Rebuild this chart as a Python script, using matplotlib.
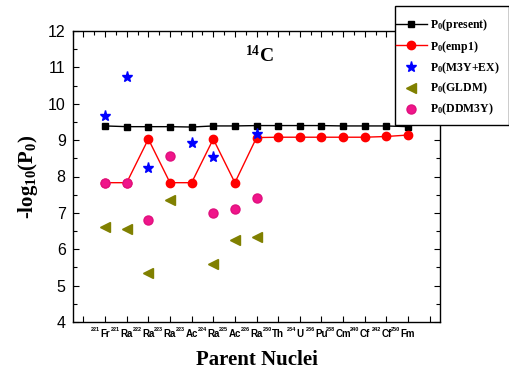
import matplotlib
matplotlib.use("Agg")
import matplotlib.pyplot as plt
from matplotlib.ticker import MultipleLocator, FixedLocator
from matplotlib.patches import Rectangle

plt.rcParams['mathtext.default'] = 'regular'

mass = ['221', '221', '222', '223', '223', '224', '225', '226', '230', '234',
        '236', '238', '240', '242', '250']
nuclei = ['Fr', 'Ra', 'Ra', 'Ra', 'Ac', 'Ra', 'Ac', 'Ra', 'Th', 'U',
          'Pu', 'Cm', 'Cf', 'Cf', 'Fm']
x = list(range(1, 16))

present = [9.39, 9.37, 9.37, 9.37, 9.36, 9.39, 9.39, 9.40, 9.40, 9.40,
           9.40, 9.39, 9.39, 9.39, 9.37]
emp1 = [7.83, 7.83, 9.03, 7.83, 7.83, 9.03, 7.83, 9.07, 9.08, 9.08,
        9.08, 9.08, 9.08, 9.10, 9.14]

m3y_x = [1, 2, 3, 5, 6, 8]
m3y = [9.66, 10.73, 8.22, 8.91, 8.53, 9.17]

gldm_x = [1, 2, 3, 4, 6, 7, 8]
gldm = [6.61, 6.56, 5.36, 7.36, 5.60, 6.26, 6.34]

ddm_x = [1, 2, 3, 4, 6, 7, 8]
ddm = [7.83, 7.83, 6.81, 8.57, 7.00, 7.10, 7.41]

W, H = 510, 376
fig = plt.figure(figsize=(W / 100, H / 100), dpi=100)
ax = fig.add_axes([72.6 / W, 1 - 322 / H, (440.5 - 72.6) / W, (322 - 31) / H])

ax.plot(x, present, color='black', lw=1.0, marker='s', ms=5, mfc='black',
        mec='black', label=r'P$_{0}$(present)', zorder=3)
ax.plot(x, emp1, color='red', lw=1.0, marker='o', ms=6, mfc='red',
        mec='red', label=r'P$_{0}$(emp1)', zorder=3)
ax.plot(m3y_x, m3y, ls='none', marker='*', ms=8, color='blue',
        label=r'P$_{0}$(M3Y+EX)', zorder=4)
ax.plot(gldm_x, gldm, ls='none', marker='<', ms=7, color='#808000',
        label=r'P$_{0}$(GLDM)', zorder=4)
ax.plot(ddm_x, ddm, ls='none', marker='o', ms=6.5, color='#f0158a',
        mec='#e0107e', label=r'P$_{0}$(DDM3Y)', zorder=4)

ax.set_xlim(-0.5, 16.5)
ax.set_ylim(4, 12)

ax.xaxis.set_major_locator(FixedLocator(list(range(0, 17))))
ax.xaxis.set_minor_locator(MultipleLocator(0.5))
ax.yaxis.set_major_locator(MultipleLocator(1))
ax.yaxis.set_minor_locator(MultipleLocator(0.5))

labels = [''] + nuclei + ['']
ax.set_xticklabels(labels, fontfamily='Liberation Sans', fontweight='bold',
                   fontsize=7.0)
for t in ax.get_yticklabels():
    t.set_fontfamily('Liberation Sans')
    t.set_fontsize(11.5)

ax.tick_params(which='both', direction='in', top=True, right=True,
               width=0.8)
ax.tick_params(which='major', length=4.5)
ax.tick_params(which='minor', length=3, bottom=False)
ax.tick_params(axis='x', which='major', pad=5)
ax.tick_params(axis='y', which='major', pad=5)
for s in ax.spines.values():
    s.set_linewidth(1.0)

# mass-number superscripts attached to each nucleus tick label
ticklabels = ax.get_xticklabels()
for lab, m in zip(ticklabels[1:16], mass):
    ax.annotate(m, xy=(0, 0.9), xycoords=lab, xytext=(-0.3, 0),
                textcoords='offset points', ha='right', va='center',
                fontfamily='Liberation Sans', fontweight='bold',
                fontsize=4.0, annotation_clip=False)

ax.set_ylabel(r'-log$_{10}$(P$_{0}$)', fontfamily='Liberation Serif',
              fontweight='bold', fontsize=15, labelpad=6)
ax.set_xlabel('Parent Nuclei', fontfamily='Liberation Serif',
              fontweight='bold', fontsize=15, labelpad=8)

ax.text(8.15, 11.33, r'$^{14}$C', fontfamily='Liberation Serif',
        fontweight='bold', fontsize=14, ha='center', va='center')

leg = fig.legend(loc='upper left', bbox_to_anchor=(396 / W, 1 - 17 / H),
                 borderaxespad=0, borderpad=0, frameon=False,
                 prop={'family': 'Liberation Serif', 'weight': 'bold',
                       'size': 8.5},
                 handlelength=2.6, handletextpad=0.25, labelspacing=0.47)
fig.patches.append(Rectangle((395 / W, 1 - 125 / H), 114 / W, 119 / H,
                             transform=fig.transFigure, fill=True,
                             facecolor='white', edgecolor='black', lw=1.0,
                             zorder=5))
leg.set_zorder(6)

fig.savefig('out.png', dpi=100)
